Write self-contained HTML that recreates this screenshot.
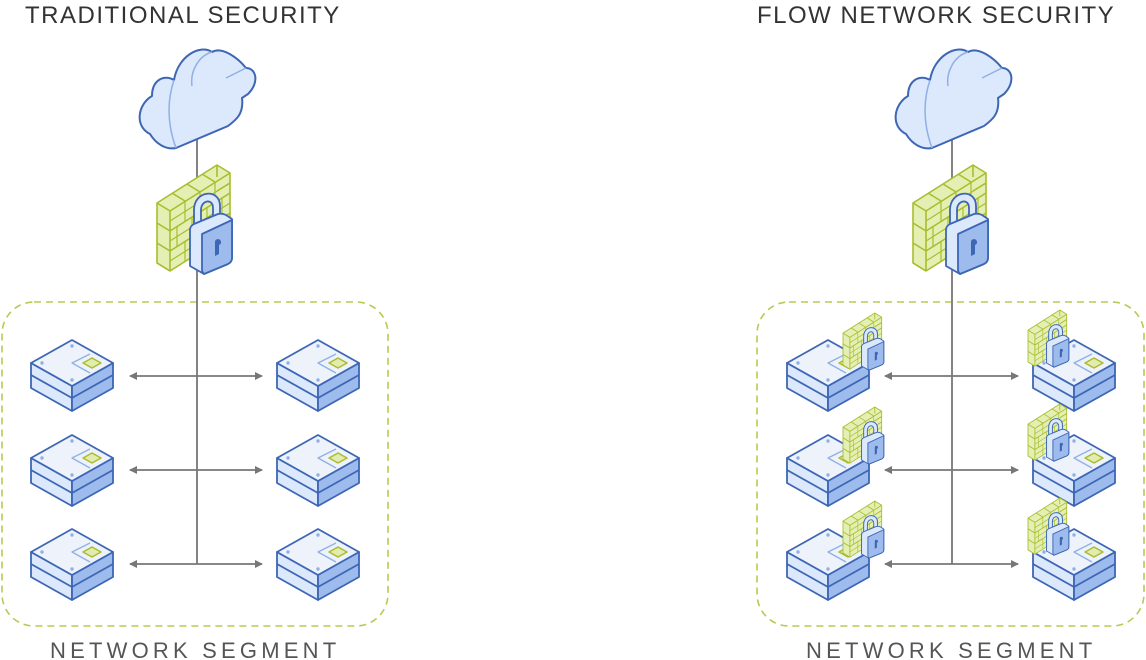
<!DOCTYPE html>
<html><head><meta charset="utf-8"><style>
html,body{margin:0;padding:0;background:#fff;width:1146px;height:660px;overflow:hidden}
svg{display:block}
text{font-family:"Liberation Sans",sans-serif;fill:#333;letter-spacing:1.5px}
</style></head><body>
<svg width="1146" height="660" viewBox="0 0 1146 660" xmlns="http://www.w3.org/2000/svg">
<defs>
<marker id="ah" markerWidth="8" markerHeight="8" refX="7" refY="4" orient="auto-start-reverse" markerUnits="userSpaceOnUse"><path d="M0,0 L8,4 L0,8z" fill="#777"/></marker>
<g id="srv" stroke="#3d66b5" stroke-width="1.8" stroke-linejoin="round">
 <path d="M-41,23 L0,46 L0,71 L-41,48z" fill="#dce8fb"/>
 <path d="M41,23 L0,46 L0,71 L41,48z" fill="#9dbbec"/>
 <path d="M-41,35 L0,58 L41,35" fill="none"/>
 <path d="M0,0 L41,23 L0,46 L-41,23z" fill="#eef3fb"/>
 <path d="M18,14 L0,23 L18,33" fill="none" stroke="#8fb0e6" stroke-width="1.3"/>
 <path d="M20,18 L29,23 L20,28 L11,23z" fill="#e2ecb0" stroke="#a9bd2e" stroke-width="1.5"/>
 <circle cx="0" cy="6" r="1.7" fill="#8fb0e6" stroke="none"/>
 <circle cx="-30" cy="23" r="1.7" fill="#8fb0e6" stroke="none"/>
 <circle cx="0" cy="40" r="1.7" fill="#8fb0e6" stroke="none"/>
</g>
<g id="wall" stroke="#a9bd2e" stroke-width="1.6" fill="#e4efb4" stroke-linejoin="round">
 <path d="M0,38 L60,0 L73,8 L73,68 L13,106 L0,98z"/>
 <path d="M0,38 L13,46 L73,8 M13,46 L13,106 M0,58 L13,66 L73,28 M0,78 L13,86 L73,48 M0,98 L13,106 M60,0 L60,12 M30,19 L43,27 M45,9 L58,17 M15,28 L28,36 M73,18 L60,26" fill="none"/>
 <path d="M13,56 L73,18 M13,76 L73,38 M13,96 L73,58 M28,36 L28,56 M43,27 L43,47 M58,17 L58,37 M20,62 L20,82 M35,52 L35,72 M50,43 L50,63 M65,33 L65,53 M28,76 L28,96 M43,67 L43,87 M58,57 L58,77" fill="none" stroke-width="1.2"/>
</g>
<g id="lock" stroke="#3d66b5" stroke-width="1.8" stroke-linejoin="round">
 <path d="M4,32 L4,14 C4,-6 30,-8 30,10 L30,26 L23,29 L23,12 C23,2 11,4 11,14 L11,34z" fill="#dce8fb"/>
 <path d="M0,34 Q0,30 4,28 L28,18 Q32,17 36,19 L42,23 L42,62 Q42,66 38,68 L14,78 L0,70z" fill="#dce8fb"/>
 <path d="M12,38 L42,24 L42,62 Q42,66 38,68 L14,78 Q12,76 12,74z" fill="#9dbbec"/>
 <path d="M25,46 a3,3 0 1 1 4,3 l0,9 l-4,2z" fill="#3d66b5" stroke="none"/>
</g>
<g id="cloud" stroke="#3d66b5" stroke-width="2" stroke-linejoin="round">
 <path d="M12,88 C-4,80 0,58 14,50 C14,34 26,28 36,34 C40,10 62,-2 74,6 C84,0 100,12 108,22 C118,22 122,36 110,48 L104,52 C106,68 98,74 90,80 L38,102 C28,104 18,98 12,88z" fill="#dce8fb"/>
 <path d="M36,34 C28,58 30,80 38,102 M74,6 C60,10 52,26 54,40 M108,22 L88,32" fill="none" stroke="#8fb0e6" stroke-width="1.5"/>
</g>
</defs>

<text x="25" y="23" font-size="24">TRADITIONAL SECURITY</text>
<text x="757" y="23" font-size="24">FLOW NETWORK SECURITY</text>
<text x="50" y="658" font-size="22" style="fill:#555;letter-spacing:4.2px">NETWORK SEGMENT</text>
<text x="806" y="658" font-size="22" style="fill:#555;letter-spacing:4.2px">NETWORK SEGMENT</text>

<rect x="2" y="302" width="386" height="324" rx="32" fill="none" stroke="#b6cb52" stroke-width="1.6" stroke-dasharray="7,5"/>
<rect x="757" y="302" width="387" height="324" rx="32" fill="none" stroke="#b6cb52" stroke-width="1.6" stroke-dasharray="7,5"/>

<g stroke="#777" stroke-width="1.8" fill="none">
 <path d="M197,130 L197,564"/>
 <path d="M952,130 L952,564"/>
 <path d="M130,376 L262,376" marker-start="url(#ah)" marker-end="url(#ah)"/>
 <path d="M130,470 L262,470" marker-start="url(#ah)" marker-end="url(#ah)"/>
 <path d="M130,564 L262,564" marker-start="url(#ah)" marker-end="url(#ah)"/>
 <path d="M885,376 L1018,376" marker-start="url(#ah)" marker-end="url(#ah)"/>
 <path d="M885,470 L1018,470" marker-start="url(#ah)" marker-end="url(#ah)"/>
 <path d="M885,564 L1018,564" marker-start="url(#ah)" marker-end="url(#ah)"/>
</g>

<use href="#cloud" x="138" y="46"/>
<use href="#cloud" x="894" y="46"/>
<use href="#wall" x="157" y="165"/>
<use href="#lock" x="190" y="196"/>
<use href="#wall" x="913" y="165"/>
<use href="#lock" x="946" y="196"/>

<use href="#srv" x="72" y="340"/>
<use href="#srv" x="72" y="435"/>
<use href="#srv" x="72" y="529"/>
<use href="#srv" x="318" y="340"/>
<use href="#srv" x="318" y="435"/>
<use href="#srv" x="318" y="529"/>

<use href="#srv" x="828" y="340"/>
<use href="#srv" x="828" y="435"/>
<use href="#srv" x="828" y="529"/>
<use href="#srv" x="1074" y="340"/>
<use href="#srv" x="1074" y="435"/>
<use href="#srv" x="1074" y="529"/>

<g transform="translate(843,313) scale(0.53)"><use href="#wall"/><use href="#lock" x="35" y="30"/></g>
<g transform="translate(843,407) scale(0.53)"><use href="#wall"/><use href="#lock" x="35" y="30"/></g>
<g transform="translate(843,501) scale(0.53)"><use href="#wall"/><use href="#lock" x="35" y="30"/></g>
<g transform="translate(1028,310) scale(0.53)"><use href="#wall"/><use href="#lock" x="35" y="30"/></g>
<g transform="translate(1028,404) scale(0.53)"><use href="#wall"/><use href="#lock" x="35" y="30"/></g>
<g transform="translate(1028,498) scale(0.53)"><use href="#wall"/><use href="#lock" x="35" y="30"/></g>
</svg>
</body></html>
